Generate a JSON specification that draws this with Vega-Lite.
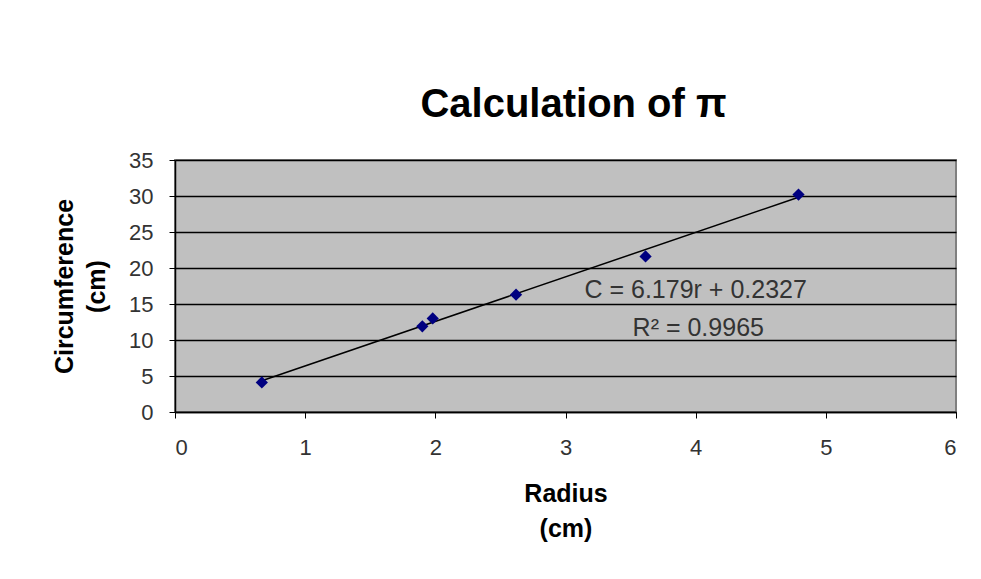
{
  "$schema": "https://vega.github.io/schema/vega-lite/v6.json",
  "autosize": {"type": "none"},
  "width": 781,
  "height": 252,
  "padding": {"left": 175, "top": 160, "right": 25, "bottom": 167},
  "background": "white",
  "title": {
    "text": "Calculation of π",
    "font": "Liberation Sans",
    "fontSize": 40,
    "fontWeight": "bold",
    "color": "black",
    "anchor": "middle",
    "dx": 8,
    "offset": 24
  },
  "config": {
    "view": {"fill": "#c0c0c0", "stroke": "#808080", "strokeWidth": 2},
    "axis": {
      "labelFont": "Liberation Sans",
      "labelFontSize": 22,
      "labelColor": "#333333",
      "labelOverlap": false,
      "titleFont": "Liberation Sans",
      "titleFontSize": 25,
      "titleFontWeight": "bold",
      "titleColor": "black",
      "domainColor": "black",
      "domainWidth": 1.5,
      "tickColor": "black",
      "tickSize": 6,
      "gridColor": "black",
      "gridWidth": 1.5,
      "gridOpacity": 1
    }
  },
  "datasets": {
    "pts": [
      {"radius": 0.667, "circumference": 4.1},
      {"radius": 1.9, "circumference": 11.9},
      {"radius": 1.98, "circumference": 13.0},
      {"radius": 2.62, "circumference": 16.3},
      {"radius": 3.615, "circumference": 21.6},
      {"radius": 4.79, "circumference": 30.2}
    ],
    "trend": [
      {"radius": 0.667, "circumference": 4.35},
      {"radius": 4.79, "circumference": 29.83}
    ]
  },
  "encoding": {
    "x": {
      "field": "radius", "type": "quantitative",
      "scale": {"domain": [0, 6], "nice": false},
      "axis": {"values": [0, 1, 2, 3, 4, 5, 6], "format": "d", "grid": false, "title": ["Radius", "(cm)"], "titleLineHeight": 35, "labelPadding": 19, "titlePadding": 23}
    },
    "y": {
      "field": "circumference", "type": "quantitative",
      "scale": {"domain": [0, 35], "nice": false},
      "axis": {"values": [0, 5, 10, 15, 20, 25, 30, 35], "format": "d", "grid": true, "title": ["Circumference", "(cm)"], "titleLineHeight": 32, "labelPadding": 16, "titlePadding": 19}
    }
  },
  "layer": [
    {
      "data": {"name": "trend"},
      "mark": {"type": "line", "color": "black", "strokeWidth": 1.5}
    },
    {
      "data": {"name": "pts"},
      "mark": {"type": "point", "shape": "diamond", "filled": true, "color": "#000080", "size": 150, "opacity": 1}
    },
    {
      "data": {"values": [{"label": "C = 6.179r + 0.2327", "radius": 4.0, "circumference": 17.0}, {"label": "R² = 0.9965", "radius": 4.02, "circumference": 11.7}]},
      "mark": {"type": "text", "font": "Liberation Sans", "fontSize": 25, "color": "#333333", "align": "center", "baseline": "middle"},
      "encoding": {
        "text": {"field": "label", "type": "nominal"}
      }
    }
  ]
}
